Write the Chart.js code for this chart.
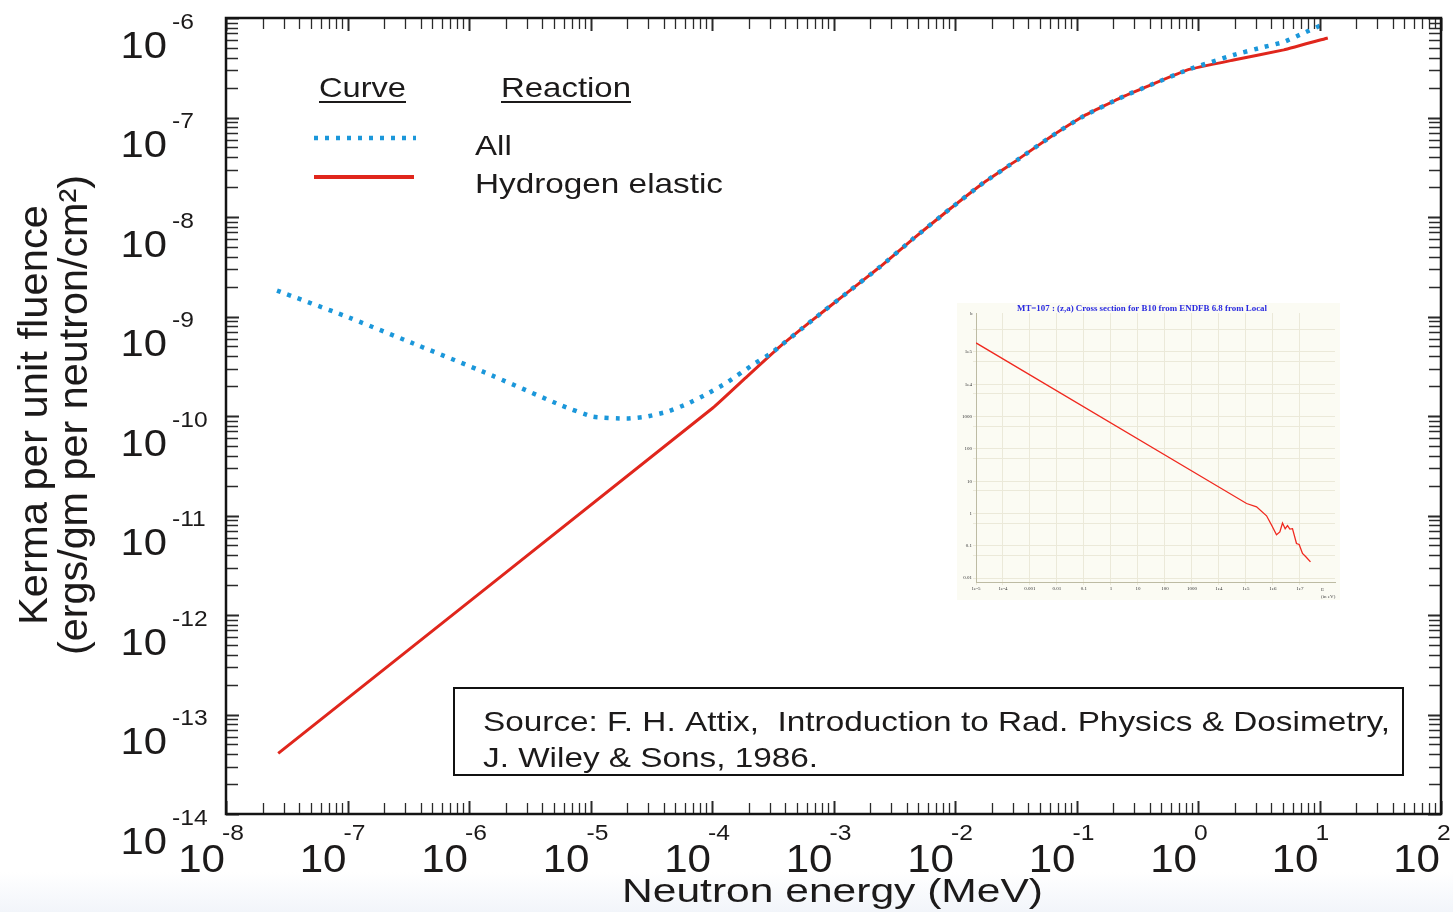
<!DOCTYPE html>
<html>
<head>
<meta charset="utf-8">
<script src="https://cdn.jsdelivr.net/npm/chart.js@4.4.0/dist/chart.umd.min.js"></script>
<style>
  html, body { margin: 0; padding: 0; background: #fff; }
  #wrap { position: relative; width: 1453px; height: 912px; }
  #main { position: absolute; left: 0; top: 0; }
  #inset { position: absolute; left: 957px; top: 303px; }
</style>
</head>
<body>
<div id="wrap">
  <canvas id="main" width="1453" height="912"></canvas>
  <canvas id="inset" width="383" height="297"></canvas>
</div>
<script>
// Neutron energy (MeV) and kerma per unit fluence
var energyAll = [2.63e-8, 9.40e-8, 3.35e-7, 1.36e-6, 5.56e-6, 1.04e-5, 1.99e-5, 2.90e-5, 4.33e-5, 6.31e-5,
                 9.22e-5, 1.32e-4, 2.17e-4, 3.11e-4, 6.78e-4, 1.29e-3, 2.42e-3, 4.52e-3, 9.12e-3, 1.71e-2,
                 3.26e-2, 6.10e-2, 0.114, 0.244, 0.406, 0.820, 1.96, 3.47, 5.08, 7.43, 11.3];
var kermaAll = [1.82e-9, 1.02e-9, 5.46e-10, 2.73e-10, 1.30e-10, 9.86e-11, 9.42e-11, 9.86e-11, 1.11e-10, 1.33e-10,
                1.68e-10, 2.16e-10, 3.28e-10, 4.33e-10, 9.29e-10, 1.73e-9, 3.16e-9, 6.04e-9, 1.21e-8, 2.20e-8,
                3.75e-8, 6.38e-8, 1.03e-7, 1.63e-7, 2.12e-7, 3.01e-7, 4.25e-7, 5.11e-7, 5.74e-7, 7.07e-7, 8.91e-7];
var energyH = [2.69e-8, 1.02e-4, 1.94e-4, 3.62e-4, 6.78e-4, 1.29e-3, 2.42e-3, 4.52e-3, 9.12e-3, 1.71e-2,
               3.26e-2, 6.10e-2, 0.114, 0.244, 0.406, 0.820, 1.96, 5.08, 11.7];
var kermaH = [4.07e-14, 1.21e-10, 2.49e-10, 4.98e-10, 9.29e-10, 1.73e-9, 3.16e-9, 6.04e-9, 1.21e-8, 2.20e-8,
              3.75e-8, 6.38e-8, 1.03e-7, 1.63e-7, 2.12e-7, 3.01e-7, 3.78e-7, 4.78e-7, 6.30e-7];

// Decade exponents for the tick labels
var xExponents = [-8, -7, -6, -5, -4, -3, -2, -1, 0, 1, 2];
var yExponents = [-14, -13, -12, -11, -10, -9, -8, -7, -6];

// Inset: B10 (n,a) cross section, energy in eV, sigma in barns
var insetEnergy = [1e-5, 1.06e5, 2.48e5, 5.82e5, 8.89e5, 1.36e6, 1.81e6, 2.27e6, 2.85e6, 3.48e6,
                   4.25e6, 5.32e6, 7.48e6, 9.40e6, 1.25e7, 1.66e7, 2.47e7];
var insetSigma = [1.9e5, 2.04, 1.61, 0.85, 0.44, 0.22, 0.27, 0.51, 0.34, 0.42,
                  0.33, 0.34, 0.118, 0.11, 0.058, 0.046, 0.032];
var insetXTicks = [1e-5, 1e-4, 1e-3, 1e-2, 0.1, 1, 10, 100, 1000, 1e4, 1e5, 1e6, 1e7];
var insetXLabels = ["1e-5", "1e-4", "0.001", "0.01", "0.1", "1", "10", "100", "1000", "1e4", "1e5", "1e6", "1e7"];
var insetYTicks = [0.01, 0.05, 0.1, 0.5, 1, 5, 10, 50, 100, 500, 1000, 5000, 1e4, 5e4, 1e5, 5e5];
var insetYLabels = ["0.01", "", "0.1", "", "1", "", "10", "", "100", "", "1000", "", "1e4", "", "1e5", ""];

var BLUE = "#1b97da";
var RED = "#e0261c";
var INK = "#1c1a1a";

// Text helper: optional horizontal stretch or fit to a width
function drawText(c, s, x, y, font, opts) {
    opts = opts || {};
    c.save();
    c.font = font;
    c.fillStyle = opts.color || INK;
    c.textBaseline = "alphabetic";
    var w = c.measureText(s).width;
    var sx = opts.width ? opts.width / w : (opts.sx || 1);
    var ax = opts.align === "right" ? -w : (opts.align === "center" ? -w / 2 : 0);
    c.translate(x, y);
    if (opts.rot) c.rotate(opts.rot);
    c.scale(sx, 1);
    c.fillText(s, ax, 0);
    c.restore();
    return w * sx;
}

function pairs(xs, ys) {
    return xs.map(function (v, i) { return { x: v, y: ys[i] }; });
}

// Frame, inside ticks, labels, legend and source box
var decorPlugin = {
    id: "decor",
    beforeDraw: function (chart) {
        var c = chart.ctx;
        var g = c.createLinearGradient(0, 872, 0, 912);
        g.addColorStop(0, "#ffffff");
        g.addColorStop(1, "#f2f5fa");
        c.fillStyle = g;
        c.fillRect(0, 872, chart.width, 40);
    },
    afterDraw: function (chart) {
        var c = chart.ctx;
        var a = chart.chartArea;
        var xs = chart.scales.x, ys = chart.scales.y;
        var F = '"Liberation Sans", Arial, sans-serif';

        // ticks on all four sides
        c.save();
        c.strokeStyle = "#2a2a2a";
        xExponents.forEach(function (e, i) {
            for (var m = 1; m <= 9; m++) {
                if (i === xExponents.length - 1 && m > 1) break;
                var px = Math.round(xs.getPixelForValue(m * Math.pow(10, e))) + 0.5;
                var len = m === 1 ? 13 : 11;
                c.lineWidth = m === 1 ? 2 : 1.3;
                c.beginPath();
                c.moveTo(px, a.bottom); c.lineTo(px, a.bottom - len);
                c.moveTo(px, a.top); c.lineTo(px, a.top + len);
                c.stroke();
            }
        });
        yExponents.forEach(function (e, i) {
            for (var m = 1; m <= 9; m++) {
                if (i === yExponents.length - 1 && m > 1) break;
                var py = Math.round(ys.getPixelForValue(m * Math.pow(10, e))) + 0.5;
                var len = m === 1 ? 13 : 12;
                c.lineWidth = m === 1 ? 2 : 1.3;
                c.beginPath();
                c.moveTo(a.left, py); c.lineTo(a.left + len, py);
                c.moveTo(a.right, py); c.lineTo(a.right - len, py);
                c.stroke();
            }
        });
        c.lineWidth = 2.5;
        c.strokeStyle = "#141414";
        c.strokeRect(a.left, a.top, a.right - a.left, a.bottom - a.top);
        c.restore();

        // tick labels 10^n
        yExponents.forEach(function (e) {
            var py = ys.getPixelForValue(Math.pow(10, e));
            drawText(c, "10", 167, py + 39.5, "37px " + F, { align: "right", sx: 1.13 });
            drawText(c, String(e), 172, py + 10.5, "22px " + F, { sx: 1.12 });
        });
        xExponents.forEach(function (e) {
            var px = xs.getPixelForValue(Math.pow(10, e));
            drawText(c, "10", px - 1, 872, "39px " + F, { align: "right", sx: 1.08 });
            drawText(c, String(e), px - 4, 840, "22px " + F, { sx: 1.12 });
        });

        // axis titles
        drawText(c, "Neutron energy (MeV)", 622, 902, "34px " + F, { width: 421 });
        drawText(c, "Kerma per unit fluence", 47, 625, "40px " + F, { rot: -Math.PI / 2, width: 420 });
        drawText(c, "(ergs/gm per neutron/cm\u00b2)", 87, 655, "40px " + F, { rot: -Math.PI / 2, width: 480 });

        // legend
        var w1 = drawText(c, "Curve", 319, 97, "28px " + F, { width: 87 });
        var w2 = drawText(c, "Reaction", 501, 97, "28px " + F, { width: 130 });
        c.save();
        c.strokeStyle = INK;
        c.lineWidth = 2;
        c.beginPath();
        c.moveTo(319, 102); c.lineTo(319 + w1, 102);
        c.moveTo(501, 102); c.lineTo(501 + w2, 102);
        c.stroke();
        c.lineWidth = 4.5;
        c.strokeStyle = BLUE;
        c.setLineDash([4, 7]);
        c.beginPath();
        c.moveTo(314, 138); c.lineTo(416, 138);
        c.stroke();
        c.setLineDash([]);
        c.lineWidth = 4;
        c.strokeStyle = RED;
        c.beginPath();
        c.moveTo(314, 177); c.lineTo(414, 177);
        c.stroke();
        c.restore();
        drawText(c, "All", 475, 155, "28px " + F, { sx: 1.18 });
        drawText(c, "Hydrogen elastic", 475, 193, "28px " + F, { width: 248 });

        // source box
        c.save();
        c.fillStyle = "#fff";
        c.fillRect(454, 688, 949, 87);
        c.lineWidth = 2;
        c.strokeStyle = "#111";
        c.strokeRect(454, 688, 949, 87);
        c.restore();
        drawText(c, "Source: F. H. Attix,  Introduction to Rad. Physics & Dosimetry,", 483, 731, "28px " + F, { width: 907 });
        drawText(c, "J. Wiley & Sons, 1986.", 483, 767, "28px " + F, { width: 335 });
    }
};

// Main chart: kerma vs neutron energy, log-log
var ctx = document.getElementById("main").getContext("2d");
const kermaChart = new Chart(ctx, {
    type: "line",
    data: {
        datasets: [
            {
                label: "All",
                data: pairs(energyAll, kermaAll),
                borderColor: BLUE,
                borderWidth: 4.5,
                borderDash: [4, 7],
                borderCapStyle: "butt",
                tension: 0.15,
                pointRadius: 0,
                fill: false
            },
            {
                label: "Hydrogen elastic",
                data: pairs(energyH, kermaH),
                borderColor: RED,
                borderWidth: 3,
                tension: 0.1,
                pointRadius: 0,
                fill: false
            }
        ]
    },
    options: {
        responsive: false,
        animation: false,
        devicePixelRatio: 1,
        layout: { padding: { left: 226, right: 12, top: 18, bottom: 98 } },
        plugins: { legend: { display: false }, tooltip: { enabled: false } },
        scales: {
            x: { type: "logarithmic", min: 1e-8, max: 1e2, display: false },
            y: { type: "logarithmic", min: 1e-14, max: 1e-6, display: false }
        }
    },
    plugins: [decorPlugin]
});

// Inset chart: the small cross-section picture
var insetPlugin = {
    id: "insetDecor",
    beforeDraw: function (chart) {
        var c = chart.ctx;
        c.save();
        c.fillStyle = "#fbfbf3";
        c.fillRect(0, 0, chart.width, chart.height);
        c.restore();
    },
    afterDraw: function (chart) {
        var c = chart.ctx;
        var a = chart.chartArea;
        drawText(c, "MT=107 : (z,a) Cross section for B10 from ENDFB 6.8 from Local", 185, 8,
            'bold 8px "Liberation Serif", serif', { align: "center", width: 250, color: "#2a2ae0" });
        drawText(c, "b", a.left - 6, 12, '5px "Liberation Serif", serif', { color: "#444" });
        drawText(c, "E", 364, 288, '5px "Liberation Serif", serif', { color: "#444" });
        drawText(c, "(in eV)", 364, 295, '5px "Liberation Serif", serif', { color: "#444" });
    }
};

var insetCtx = document.getElementById("inset").getContext("2d");
const insetChart = new Chart(insetCtx, {
    type: "line",
    data: {
        datasets: [{
            data: pairs(insetEnergy, insetSigma),
            borderColor: "#f0281e",
            borderWidth: 1.3,
            pointRadius: 0,
            fill: false
        }]
    },
    options: {
        responsive: false,
        animation: false,
        devicePixelRatio: 1,
        layout: { padding: { left: 0, right: 5, top: 10, bottom: 0 } },
        plugins: { legend: { display: false }, tooltip: { enabled: false } },
        scales: {
            x: {
                type: "logarithmic", min: 1e-5, max: 2e8,
                afterBuildTicks: function (s) { s.ticks = insetXTicks.map(function (v) { return { value: v }; }); },
                afterFit: function (s) { s.height = 18; },
                ticks: {
                    autoSkip: false, maxRotation: 0, padding: 1, color: "#333",
                    font: { size: 5, family: "Liberation Serif" },
                    callback: function (v, i) { return insetXLabels[i]; }
                },
                grid: { color: "#ebe9d9", tickLength: 3 },
                border: { color: "#bdbba3", width: 1 }
            },
            y: {
                type: "logarithmic", min: 0.0076, max: 1.6e6,
                afterBuildTicks: function (s) { s.ticks = insetYTicks.map(function (v) { return { value: v }; }); },
                afterFit: function (s) { s.width = 19; },
                ticks: {
                    autoSkip: false, padding: 1, color: "#333",
                    font: { size: 5, family: "Liberation Serif" },
                    callback: function (v, i) { return insetYLabels[i]; }
                },
                grid: { color: "#ebe9d9", tickLength: 3 },
                border: { color: "#bdbba3", width: 1 }
            }
        }
    },
    plugins: [insetPlugin]
});
</script>
</body>
</html>
